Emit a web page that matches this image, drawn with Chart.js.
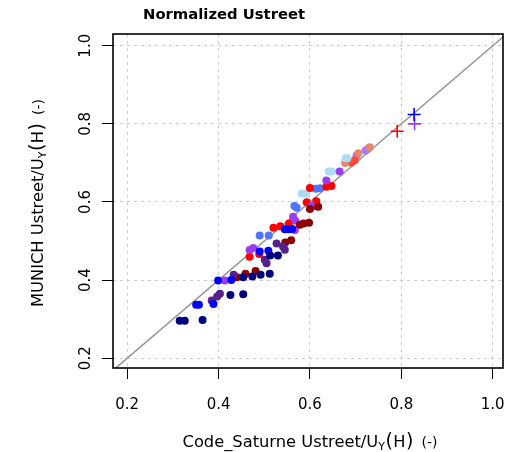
<!DOCTYPE html>
<html>
<head>
<meta charset="utf-8">
<script src="https://cdn.jsdelivr.net/npm/chart.js@4.4.0/dist/chart.umd.min.js"></script>
<style>
  html, body { margin: 0; padding: 0; background: #fff; }
</style>
</head>
<body>
<canvas id="ustreetChart" width="506" height="452"></canvas>
<script>
'use strict';

// points, [Code_Saturne, MUNICH]
const navyPts = [[0.315, 0.296], [0.326, 0.296], [0.365, 0.298], [0.426, 0.362], [0.454, 0.364],
    [0.454, 0.407], [0.474, 0.409], [0.492, 0.414], [0.512, 0.416], [0.513, 0.463], [0.530, 0.463]];
const bluePts = [[0.351, 0.337], [0.357, 0.337], [0.389, 0.339], [0.399, 0.399], [0.428, 0.400],
    [0.490, 0.473], [0.509, 0.475], [0.545, 0.530], [0.553, 0.530], [0.561, 0.531]];
const royalPts = [[0.490, 0.514], [0.510, 0.514], [0.566, 0.590], [0.571, 0.585], [0.613, 0.634], [0.622, 0.635]];
const lightPts = [[0.582, 0.622], [0.592, 0.622], [0.641, 0.678], [0.648, 0.678], [0.678, 0.712], [0.682, 0.712]];
const purplePts = [[0.414, 0.399], [0.468, 0.477], [0.476, 0.482], [0.567, 0.528], [0.563, 0.562],
    [0.568, 0.552], [0.604, 0.590], [0.636, 0.655], [0.665, 0.678]];
const lilacPts = [[0.702, 0.719], [0.722, 0.732], [0.727, 0.736]];
const darkPurplePts = [[0.385, 0.348], [0.397, 0.358], [0.403, 0.365], [0.433, 0.414], [0.501, 0.452],
    [0.505, 0.443], [0.527, 0.494], [0.541, 0.486], [0.545, 0.478]];
const darkRedPts = [[0.440, 0.407], [0.459, 0.416], [0.481, 0.423], [0.546, 0.496], [0.559, 0.502],
    [0.578, 0.542], [0.586, 0.545], [0.598, 0.547], [0.600, 0.582], [0.618, 0.588]];
const redPts = [[0.468, 0.460], [0.489, 0.467], [0.520, 0.534], [0.535, 0.538], [0.554, 0.545],
    [0.593, 0.599], [0.614, 0.602], [0.610, 0.590], [0.600, 0.636], [0.636, 0.639], [0.647, 0.641]];
const salmonPts = [[0.677, 0.700], [0.706, 0.725], [0.731, 0.740]];
const tomatoPts = [[0.691, 0.701], [0.698, 0.707]];
// the three crosses
const redCross = [[0.791, 0.781]];
const blueCross = [[0.828, 0.824]];
const purpleCross = [[0.829, 0.800]];

const tickValues = [0.2, 0.4, 0.6, 0.8, 1.0];

const FONT = '"DejaVu Sans", sans-serif';

function toXY(pts) {
    return pts.map(p => ({x: p[0], y: p[1]}));
}

function dots(pts, color) {
    return {
        data: toXY(pts),
        backgroundColor: color,
        borderColor: color,
        borderWidth: 0,
        pointRadius: 4,
        order: 1
    };
}

function cross(pts, color) {
    return {
        data: toXY(pts),
        pointStyle: 'cross',
        borderColor: color,
        borderWidth: 1.6,
        pointRadius: 6.5,
        order: 0
    };
}

// text with a subscript, written piece by piece
function drawPieces(ctx, pieces, cx, cy, angle) {
    let total = 0;
    pieces.forEach(p => {
        ctx.font = p.size + 'px ' + FONT;
        p.w = ctx.measureText(p.t).width;
        total += (p.gap || 0) + p.w;
    });
    ctx.save();
    ctx.translate(cx, cy);
    ctx.rotate(angle);
    ctx.textAlign = 'left';
    ctx.textBaseline = 'alphabetic';
    ctx.fillStyle = '#000';
    let x = -total / 2;
    pieces.forEach(p => {
        x += p.gap || 0;
        ctx.font = p.size + 'px ' + FONT;
        ctx.fillText(p.t, x, p.dy || 0);
        x += p.w;
    });
    ctx.restore();
}

const titlePieces = name => [
    {t: name + ' Ustreet/U', size: 16.3},
    {t: 'Y', size: 11, dy: 3},
    {t: '(', size: 19, gap: 0.5},
    {t: 'H', size: 16.3, gap: 0.5},
    {t: ')', size: 19, gap: 0.5},
    {t: '(-)', size: 14, gap: 8}
];

const decor = {
    id: 'decor',
    afterDraw(chart) {
        const ctx = chart.ctx;
        const a = chart.chartArea;
        const yScale = chart.scales.y;
        ctx.save();
        ctx.strokeStyle = '#000';
        ctx.lineWidth = 1.6;
        ctx.strokeRect(a.left, a.top, a.right - a.left, a.bottom - a.top);

        ctx.font = '15px ' + FONT;
        ctx.fillStyle = '#000';
        ctx.textAlign = 'center';
        ctx.textBaseline = 'middle';
        tickValues.forEach(v => {
            const py = yScale.getPixelForValue(v);
            ctx.save();
            ctx.translate(86, py);
            ctx.rotate(-Math.PI / 2);
            ctx.fillText(v.toFixed(1), 0, 0);
            ctx.restore();
        });

        ctx.font = 'bold 14.8px ' + FONT;
        ctx.textAlign = 'left';
        ctx.textBaseline = 'alphabetic';
        ctx.fillText('Normalized Ustreet', 143, 19);

        drawPieces(ctx, titlePieces('Code_Saturne'), 310, 447, 0);
        drawPieces(ctx, titlePieces('MUNICH'), 43, 203, -Math.PI / 2);
        ctx.restore();
    }
};

const ctx = document.getElementById('ustreetChart').getContext('2d');
new Chart(ctx, {
    type: 'scatter',
    data: {
        datasets: [
            {
                type: 'line',
                data: [{x: 0, y: 0}, {x: 1.2, y: 1.2}],
                borderColor: '#999999',
                borderWidth: 1.6,
                pointRadius: 0,
                showLine: true,
                order: 5
            },
            dots(navyPts, '#00007f'),
            dots(bluePts, '#0000ff'),
            dots(darkPurplePts, '#58208c'),
            dots(darkRedPts, '#8b0000'),
            dots(purplePts, '#9b3cf5'),
            dots(redPts, '#ff0000'),
            dots(royalPts, '#4f74ff'),
            dots(lightPts, '#addcf5'),
            dots(salmonPts, '#e8866a'),
            dots(tomatoPts, '#ff4a3a'),
            dots(lilacPts, '#a878ff'),
            cross(redCross, '#ff0000'),
            cross(blueCross, '#0000ff'),
            cross(purpleCross, '#9b3cf5')
        ]
    },
    options: {
        responsive: false,
        animation: false,
        layout: {autoPadding: false, padding: {top: 34, right: 3, left: 0, bottom: 0}},
        plugins: {
            legend: {display: false},
            tooltip: {enabled: false}
        },
        scales: {
            x: {
                type: 'linear',
                min: 0.169,
                max: 1.0225,
                afterFit: s => { s.height = 84; s.paddingLeft = 0; s.paddingRight = 0; },
                afterBuildTicks: s => { s.ticks = tickValues.map(v => ({value: v})); },
                border: {display: false, dash: [3, 4]},
                grid: {
                    color: '#cccccc',
                    lineWidth: 1,
                    tickColor: '#000',
                    tickLength: 11,
                    tickWidth: 1,
                    tickBorderDash: []
                },
                ticks: {
                    color: '#000',
                    font: {family: 'DejaVu Sans', size: 15},
                    padding: 17,
                    maxRotation: 0,
                    callback: v => v.toFixed(1)
                }
            },
            y: {
                type: 'linear',
                min: 0.175,
                max: 1.03,
                afterFit: s => { s.width = 113; s.paddingTop = 0; s.paddingBottom = 0; },
                afterBuildTicks: s => { s.ticks = tickValues.map(v => ({value: v})); },
                border: {display: false, dash: [3, 4]},
                grid: {
                    color: '#cccccc',
                    lineWidth: 1,
                    tickColor: '#000',
                    tickLength: 11,
                    tickWidth: 1,
                    tickBorderDash: []
                },
                ticks: {display: false}
            }
        }
    },
    plugins: [decor]
});
</script>
</body>
</html>
